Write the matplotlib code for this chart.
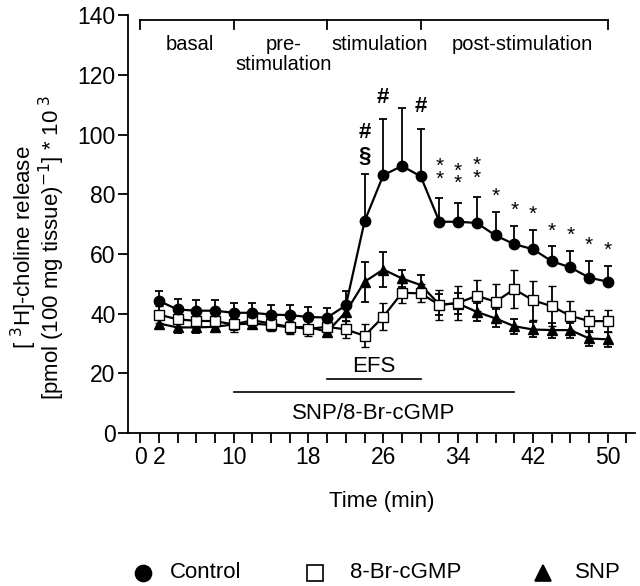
import numpy as np
import matplotlib
matplotlib.use("Agg")
import matplotlib.pyplot as plt
from matplotlib.lines import Line2D

plt.rcParams['font.family'] = ['Liberation Sans', 'DejaVu Sans']

# time points (min)
time = np.arange(2, 51, 2)

control = [44.3, 41.4, 41.0, 41.0, 40.3, 40.3, 39.7, 39.5, 38.9, 38.7, 42.8, 71.0, 86.4,
           89.5, 86.0, 70.8, 70.8, 70.4, 66.2, 63.3, 61.6, 57.6, 55.5, 52.1, 50.7]
control_err = [3.3, 3.4, 3.5, 3.5, 3.4, 3.3, 3.3, 3.3, 3.3, 3.3, 4.8, 15.7, 18.7,
               19.5, 16.0, 7.8, 6.3, 8.6, 7.9, 6.1, 6.5, 5.0, 5.5, 5.7, 5.3]

br_cgmp = [39.7, 38.1, 37.6, 37.5, 36.4, 37.8, 36.7, 35.6, 34.9, 35.6, 34.7, 32.6, 39.0,
           47.0, 46.8, 42.9, 43.6, 46.0, 44.0, 48.2, 44.5, 42.5, 39.3, 37.5, 37.5]
br_cgmp_err = [2.8, 2.5, 2.5, 2.5, 2.5, 2.5, 2.5, 2.5, 2.5, 2.5, 3.0, 3.8, 4.6,
               3.4, 3.0, 5.0, 5.6, 5.2, 5.8, 6.4, 6.5, 6.7, 4.9, 3.7, 3.7]

snp = [36.7, 35.4, 35.4, 35.6, 36.4, 36.7, 36.2, 35.4, 35.6, 33.9, 40.6, 50.7, 54.8,
       51.8, 49.6, 43.1, 43.4, 40.6, 38.4, 35.8, 34.7, 34.5, 34.5, 31.7, 31.4]
snp_err = [1.8, 1.8, 1.8, 1.8, 1.8, 1.8, 1.8, 1.8, 1.8, 1.8, 3.0, 6.7, 6.0,
           3.0, 3.5, 3.5, 3.5, 3.0, 3.0, 2.5, 2.5, 2.5, 2.5, 2.5, 2.5]

# significance marks above control bars
sig_times = [24, 26, 30, 32, 34, 36, 38, 40, 42, 44, 46, 48, 50]
sig_marks = ["#\n§", "#", "#", "*\n*", "*\n*", "*\n*", "*", "*", "*", "*", "*", "*", "*"]

# experiment phases
phase_edges = [0, 10, 20, 30, 50]
phase_names = ["basal", "pre-\nstimulation", "stimulation", "post-stimulation"]
phase_centers = [5.3, 15.3, 25.6, 40.9]

xtick_labels = [0, 2, 10, 18, 26, 34, 42, 50]

fig = plt.figure(figsize=(6.4, 5.86), dpi=100)
ax = fig.add_axes([0.2, 0.261, 0.792, 0.713])

lw = 1.6
ms = 7
ax.errorbar(time, snp, yerr=snp_err, fmt='-^', color='black', mfc='black', mec='black',
            ms=ms + 0.5, lw=lw, elinewidth=1.3, capsize=2.8, capthick=1.3, zorder=3)
ax.errorbar(time, br_cgmp, yerr=br_cgmp_err, fmt='-s', color='black', mfc='white', mec='black',
            mew=1.0, ms=ms, lw=lw, elinewidth=1.3, capsize=2.8, capthick=1.3, zorder=4)
ax.errorbar(time, control, yerr=[np.zeros(len(control)), control_err], fmt='-o', color='black',
            mfc='black', ms=ms + 0.5, lw=lw, elinewidth=1.3, capsize=2.8, capthick=1.3, zorder=5)

# significance symbols, one text per time point (offsets in points above the cap)
ctrl_top = dict(zip(time, np.array(control) + np.array(control_err)))
for t, m in zip(sig_times, sig_marks):
    y0 = ctrl_top[t]
    if m.startswith("*"):
        off = 10 if "\n" in m else 7
        ax.annotate(m, xy=(t, y0), xytext=(0, off), textcoords='offset points',
                    ha='center', va='baseline', fontsize=15, linespacing=0.56)
    else:
        off = 9 if "\n" in m else 12
        ax.annotate(m, xy=(t, y0), xytext=(0, off), textcoords='offset points',
                    ha='center', va='baseline', fontsize=16, fontweight='bold',
                    linespacing=1.15)

# phase bracket at the top
ax.plot([phase_edges[0], phase_edges[-1]], [138.3, 138.3], color='black', lw=1.3, clip_on=False)
for e in phase_edges:
    ax.plot([e, e], [138.3, 135.4], color='black', lw=1.3, clip_on=False)
for c, name in zip(phase_centers, phase_names):
    ax.text(c, 133.4, name, ha='center', va='top', fontsize=14.5, linespacing=1.05)

# treatment bars
ax.plot([20, 30], [18.1, 18.1], color='black', lw=1.2)
ax.text(25, 22.3, "EFS", ha='center', va='center', fontsize=16)
ax.plot([10, 40], [13.8, 13.8], color='black', lw=1.2)
ax.text(25, 6.7, "SNP/8-Br-cGMP", ha='center', va='center', fontsize=16)

ax.set_xlim(-1.3, 52.9)
ax.set_ylim(0, 140)
ax.set_yticks(np.arange(0, 141, 20))
ax.set_xticks(np.arange(0, 53, 2))
ax.set_xticklabels([str(v) if v in xtick_labels else "" for v in np.arange(0, 53, 2)])
ax.spines['top'].set_visible(False)
ax.spines['right'].set_visible(False)
ax.spines['left'].set_linewidth(1.3)
ax.spines['bottom'].set_linewidth(1.3)
ax.tick_params(axis='both', direction='out', length=7, width=1.3, labelsize=16.5, pad=2)

ax.set_xlabel("Time (min)", fontsize=16, labelpad=16)
ax.set_ylabel("[ $^{3}$H]-choline release\n[pmol (100 mg tissue)$^{-1}$] * 10$^{\\ 3}$",
              fontsize=16, linespacing=0.9)
ax.yaxis.set_label_coords(-0.12, 0.445)

# legend along the bottom, placed entry by entry
legend_items = [("o", "black", "Control", 143, 170),
                ("s", "white", "8-Br-cGMP", 315, 350),
                ("^", "black", "SNP", 543, 575)]
ly = 1 - 573 / 586
for mk, fc, label, mx, tx in legend_items:
    fig.add_artist(Line2D([mx / 640], [ly], marker=mk, ms=11.5, mfc=fc, mec='black',
                          mew=1.2, ls='none', transform=fig.transFigure))
    fig.text(tx / 640, ly, label, ha='left', va='center', fontsize=16)

fig.savefig("out.png", dpi=100)
